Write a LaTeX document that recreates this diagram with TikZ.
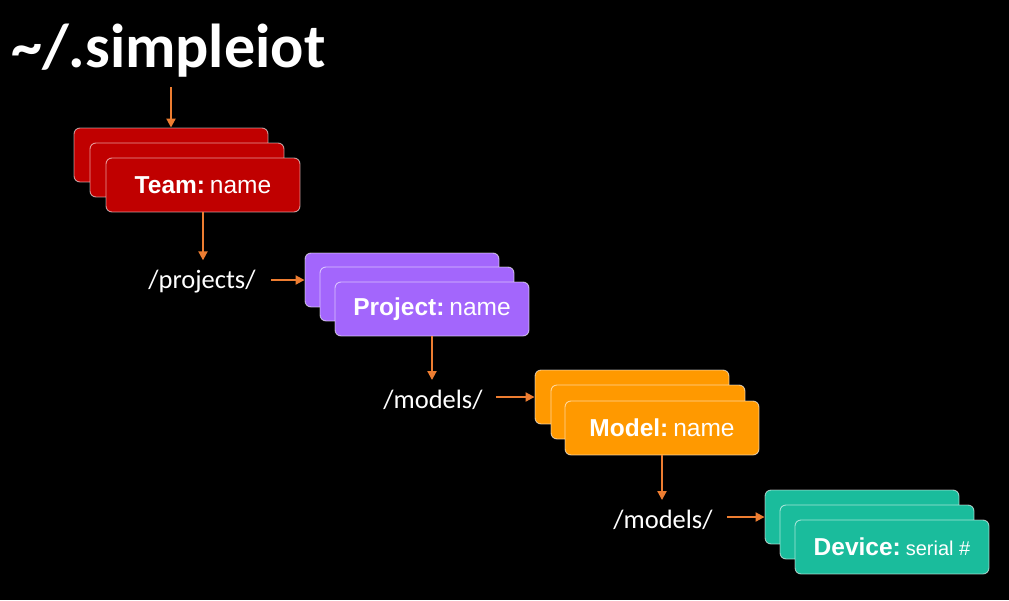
\documentclass[tikz,border=0pt]{standalone}
\usepackage{fontspec}
\setmainfont{Liberation Sans}
\newfontfamily\calibri{Carlito}
\usetikzlibrary{arrows.meta}
\definecolor{teamred}{HTML}{C00000}
\definecolor{projpurple}{HTML}{A366FC}
\definecolor{modelorange}{HTML}{FF9900}
\definecolor{devteal}{HTML}{1ABC9C}
\definecolor{arroworange}{HTML}{ED7D31}
\begin{document}
\begin{tikzpicture}[x=1pt,y=-1pt,
  card/.style={draw=white, draw opacity=0.6, line width=0.9pt, rounded corners=6pt,
    minimum width=194pt, minimum height=54pt, inner sep=0pt, text=white,
    font=\fontsize{24.5}{24.5}\selectfont},
  arr/.style={draw=arroworange, line width=2pt, -{Triangle[length=9pt,width=9pt]}},
  dirlabel/.style={text=white, inner sep=0pt, font=\calibri\fontsize{26.5}{27}\selectfont}
]
\fill[black] (0,0) rectangle (1009,600);
\useasboundingbox (0,0) rectangle (1009,600);

% title
\node[anchor=base west, inner sep=0pt, text=white, font=\calibri\bfseries\fontsize{62}{62}\selectfont] (title) at (11,67) {\textasciitilde/.simpleiot};

% Team stack
\node[card, fill=teamred] (tb) at (171,155) {};
\node[card, fill=teamred] (tm) at (187,170) {};
\node[card, fill=teamred] (tf) at (203,185) {\textbf{Team:}\hspace{0.2em}name};

% Project stack
\node[card, fill=projpurple] (pb) at (402,280) {};
\node[card, fill=projpurple] (pm) at (417,294) {};
\node[card, fill=projpurple] (pf) at (432,309) {\textbf{Project:}\hspace{0.2em}name};

% Model stack
\node[card, fill=modelorange] (mb) at (632,397) {};
\node[card, fill=modelorange] (mm) at (648,412) {};
\node[card, fill=modelorange] (mf) at (662,428) {\textbf{Model:}\hspace{0.2em}name};

% Device stack
\node[card, fill=devteal] (db) at (862,517) {};
\node[card, fill=devteal] (dm) at (877,532) {};
\node[card, fill=devteal] (df) at (892,547) {\textbf{Device:}\hspace{0.2em}{\fontsize{20}{20}\selectfont serial \#}};

% path labels
\node[dirlabel] (projects) at (202,282) {/projects/};
\node[dirlabel] (models1) at (433,400) {/models/};
\node[dirlabel] (models2) at (663,520) {/models/};

% connectors
\draw[arr, shorten <=10pt] (title.south -| tb.north) -- (tb.north);
\draw[arr, shorten >=10pt] (tf.south) -- (tf.south |- projects.north);
\draw[arr, shorten <=15pt] (pb.west -| projects.east) -- (pb.west);
\draw[arr, shorten >=10pt] (pf.south) -- (pf.south |- models1.north);
\draw[arr, shorten <=13pt] (mb.west -| models1.east) -- (mb.west);
\draw[arr, shorten >=10pt] (mf.south) -- (mf.south |- models2.north);
\draw[arr, shorten <=14pt] (db.west -| models2.east) -- (db.west);
\end{tikzpicture}
\end{document}
